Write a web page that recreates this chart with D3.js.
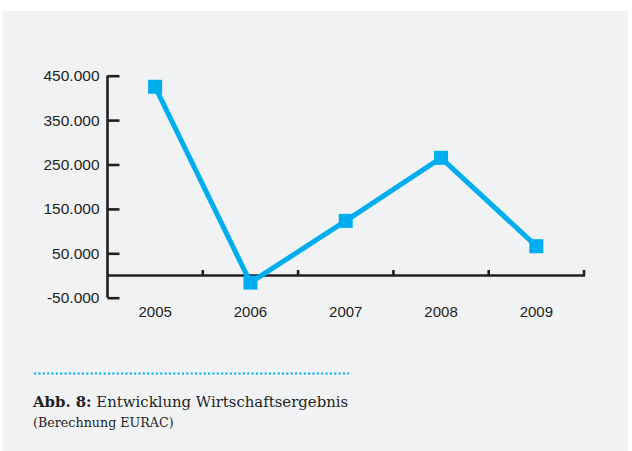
<!DOCTYPE html>
<html><head><meta charset="utf-8">
<script src="https://cdn.jsdelivr.net/npm/d3@7"></script>
<style>html,body{margin:0;padding:0;background:#fff;}svg{display:block;}</style>
</head><body>
<svg id="c" width="632" height="451"></svg>
<script>
const categories = ["2005","2006","2007","2008","2009"];
const values = [425000, -16000, 123000, 265000, 66000];
const yTicks = [-50000, 50000, 150000, 250000, 350000, 450000];
const captionBold = "Abb. 8:";
const captionText = " Entwicklung Wirtschaftsergebnis";
const captionSub = "(Berechnung EURAC)";

const svg = d3.select("#c");
const blue = "#00aeef", ink = "#231f20";
svg.append("rect").attr("x",3).attr("y",11).attr("width",625).attr("height",440).attr("fill","#f1f2f4");

const x = d3.scaleBand().domain(categories).range([107.5,584]).padding(0);
const y = d3.scaleLinear().domain([-50000,450000]).range([297.7,75.7]);
const fmtY = v => { const s = d3.format(",")(Math.abs(v)).replace(/,/g,"."); return (v<0?"-":"")+s; };

// Y axis
const yAxis = svg.append("g").attr("transform","translate(107.5,0)")
  .call(d3.axisRight(y).tickValues(yTicks).tickSize(12).tickFormat(""));
yAxis.select(".domain").attr("stroke",ink).attr("stroke-width",2.6).attr("d","M0,"+y(450000)+"V"+y(-50000));
yAxis.selectAll(".tick line").attr("stroke",ink).attr("stroke-width",2.6);
svg.append("g").selectAll("text").data(yTicks).join("text")
  .attr("x",99.5).attr("y",d=>y(d)).attr("dy","0.36em").attr("text-anchor","end")
  .attr("font-family","Liberation Sans, Arial, sans-serif").attr("font-size",15.5).attr("fill",ink)
  .text(fmtY);

// X axis at zero
const xAxis = svg.append("g").attr("transform","translate(0,"+y(0)+")")
  .call(d3.axisTop(x).tickSize(0).tickFormat(""));
xAxis.select(".domain").attr("stroke",ink).attr("stroke-width",2.6).attr("d","M107.5,0H585");
xAxis.selectAll(".tick").remove();
const bounds = categories.map(c => x(c) + x.bandwidth());
svg.append("g").selectAll("line").data(bounds).join("line")
  .attr("x1",d=>d).attr("x2",d=>d).attr("y1",y(0)).attr("y2",y(0)-5.5)
  .attr("stroke",ink).attr("stroke-width",2.6);
svg.append("g").selectAll("text").data(categories).join("text")
  .attr("x",d=>x(d)+x.bandwidth()/2).attr("y",312).attr("dy","0.36em").attr("text-anchor","middle")
  .attr("font-family","Liberation Sans, Arial, sans-serif").attr("font-size",15).attr("fill",ink)
  .text(d=>d);

// Line
const pts = categories.map((c,i)=>({c, v: values[i]}));
const line = d3.line().x(d=>x(d.c)+x.bandwidth()/2).y(d=>y(d.v));
svg.append("path").datum(pts).attr("d",line).attr("fill","none").attr("stroke",blue)
  .attr("stroke-width",5).attr("stroke-linejoin","miter");
svg.append("g").selectAll("rect").data(pts).join("rect")
  .attr("x",d=>x(d.c)+x.bandwidth()/2-7).attr("y",d=>y(d.v)-7).attr("width",14).attr("height",14).attr("fill",blue);

// Caption
svg.append("line").attr("x1",34).attr("x2",349).attr("y1",373.5).attr("y2",373.5)
  .attr("stroke",blue).attr("stroke-width",2.2).attr("stroke-dasharray","2.2 2.15");
const t = svg.append("text").attr("x",33).attr("y",407)
  .attr("font-family","DejaVu Serif, serif").attr("font-size",14.9).attr("fill",ink);
t.append("tspan").attr("font-weight","bold").text(captionBold);
t.append("tspan").text(captionText);
svg.append("text").attr("x",33).attr("y",426.5)
  .attr("font-family","DejaVu Serif, serif").attr("font-size",12.7).attr("fill",ink)
  .text(captionSub);
</script>
</body></html>
